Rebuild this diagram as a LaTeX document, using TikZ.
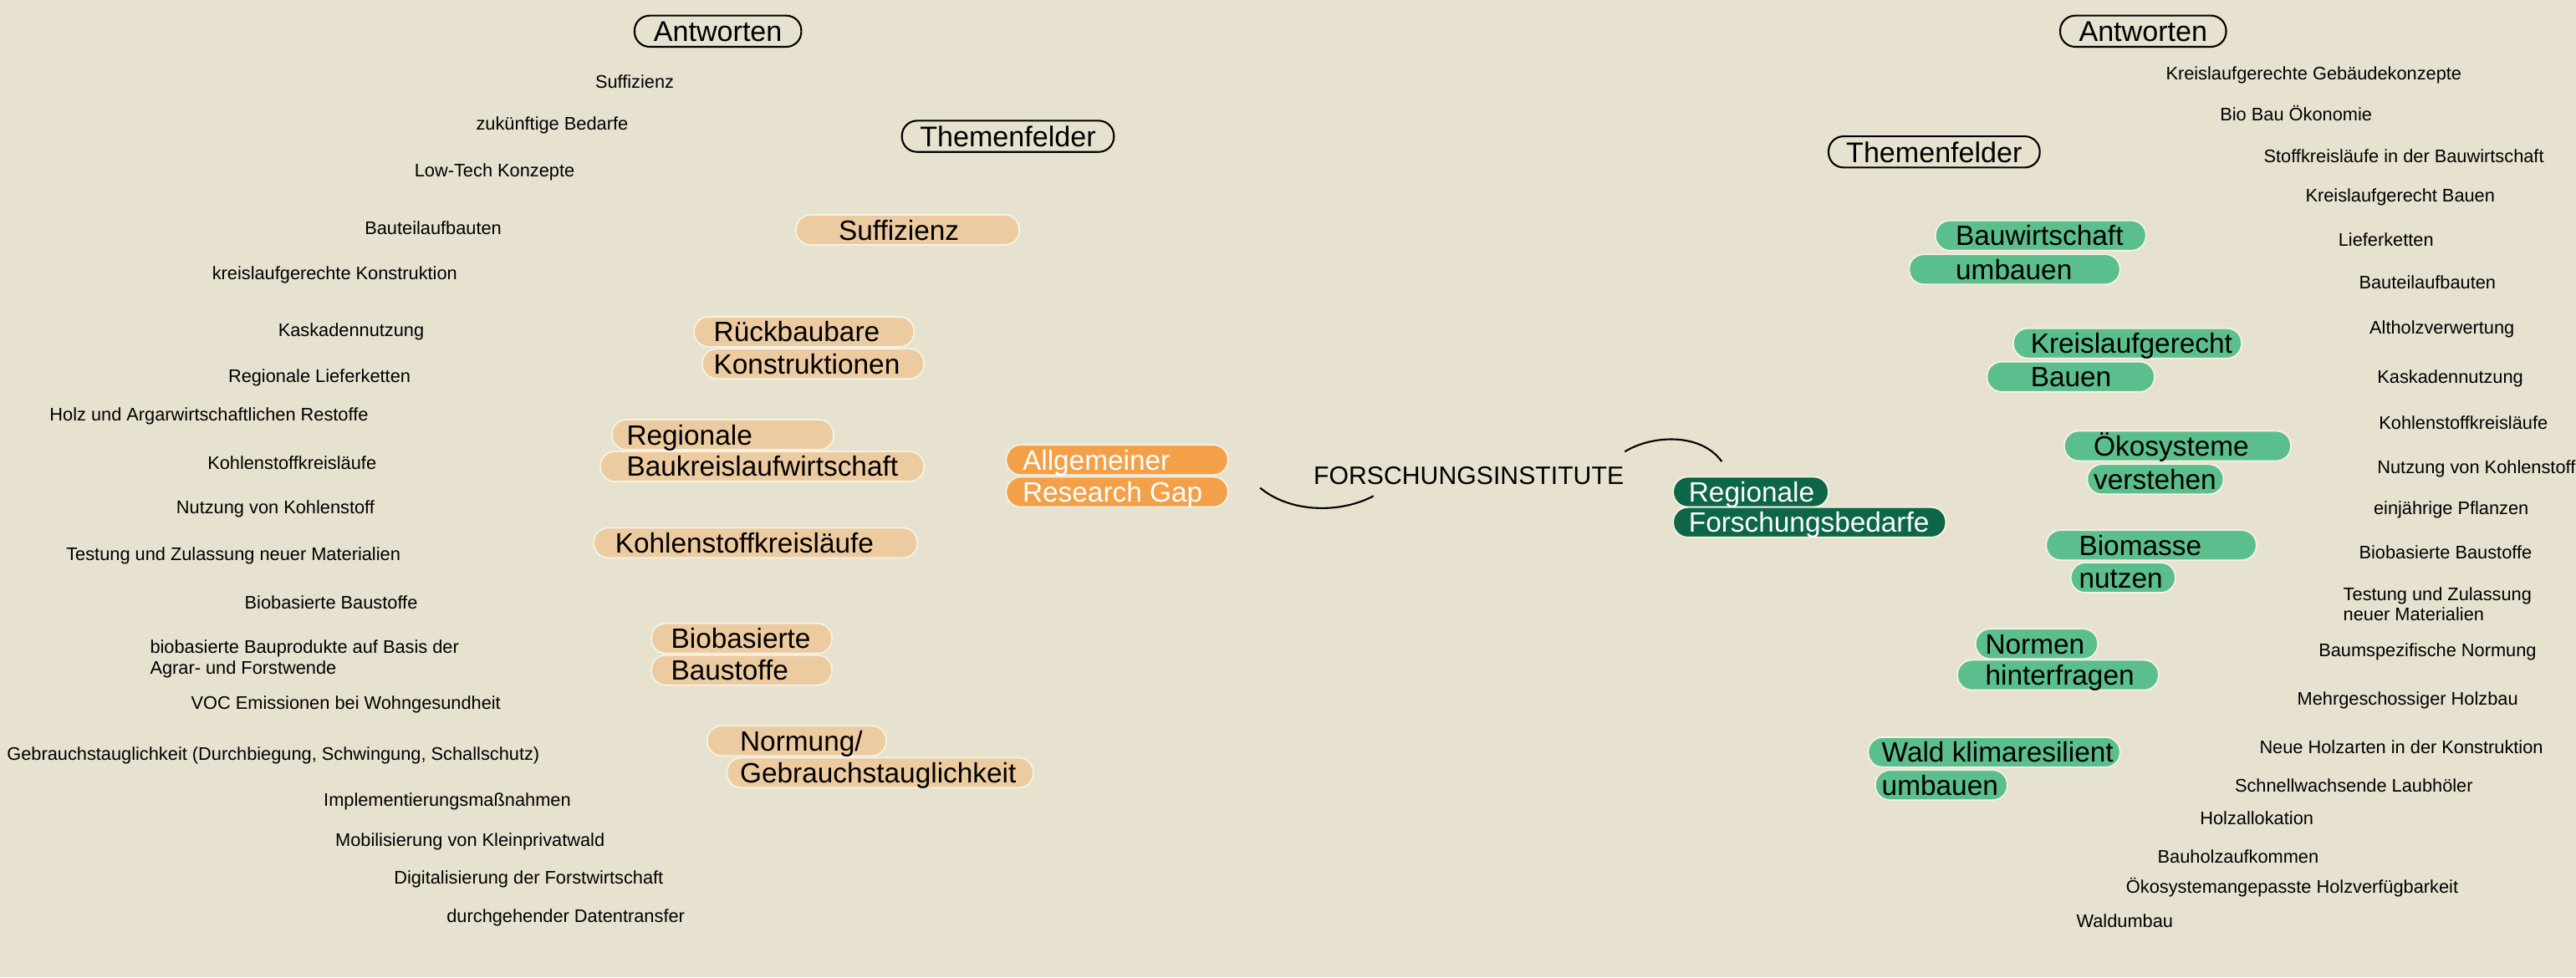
\documentclass[tikz,border=0pt]{standalone}
\usepackage{fontspec}
\setmainfont{Liberation Sans}
\usepackage{tikz}
\usetikzlibrary{positioning, calc}

\definecolor{bgcolor}{HTML}{E6E2CF}
\definecolor{sand}{HTML}{EDCBA0}
\definecolor{gaporange}{HTML}{F4A048}
\definecolor{darkgreen}{HTML}{0D6648}
\definecolor{leafgreen}{HTML}{5BBF8D}
\definecolor{pillrim}{HTML}{F6F2E4}

% one picture unit = one pixel of the 1568 px wide draft
\newlength{\ux}
\setlength{\ux}{0.01965cm}
% pill text: total width, left padding, text
\newcommand{\pilltext}[3]{\makebox[#1\ux][l]{\hspace*{#2\ux}#3}}

\begin{document}
\begin{tikzpicture}[x=0.01965cm, y=-0.01965cm,
    pill/.style={anchor=west, rounded corners=0.175cm, minimum height=0.36cm,
        inner xsep=0pt, inner ysep=0pt, text height=6.8pt, text depth=0pt,
        draw=pillrim, line width=0.5pt, font=\fontsize{9.5}{11}\selectfont},
    lightpill/.style={pill, fill=sand},
    gappill/.style={pill, fill=gaporange, text=white},
    regpill/.style={pill, fill=darkgreen, text=white},
    greenpill/.style={pill, fill=leafgreen},
    header/.style={draw=black, line width=0.6pt, rounded corners=0.18cm,
        minimum height=0.373cm, inner ysep=0pt, text height=7pt, text depth=0pt,
        font=\fontsize{9.7}{11}\selectfont},
    answer/.style={anchor=west, align=left, inner sep=0pt,
        font=\fontsize{6.2}{7.1}\selectfont},
    arc/.style={line width=0.6pt}]

    % Background
    \fill[bgcolor] (0,0) rectangle (1568,595);
    \useasboundingbox (0,0) rectangle (1568,595);

    % --- Center ---
    \node[font=\fontsize{8.6}{10}\selectfont, text height=6.2pt, text depth=0pt] (inst) at (894,289.5) {FORSCHUNGSINSTITUTE};
    \node[gappill] (allg) at (612,280) {\pilltext{135}{10}{Allgemeiner}};
    \node[gappill] (gap) at (612,299.5) {\pilltext{135}{10}{Research Gap}};
    \node[regpill] (regF) at (1018,299.5) {\pilltext{94.5}{9.5}{Regionale}};
    \node[regpill] (forschF) at (1018,318) {\pilltext{166}{9.5}{Forschungsbedarfe}};

    % Bogen links / rechts
    \coordinate (gapEnd) at (767,297);
    \coordinate (instLow) at (836,302);
    \draw[arc] (gapEnd) .. controls (785,312) and (815,313) .. (instLow);
    \coordinate (instHigh) at (989,275);
    \coordinate (regEnd) at (1048,281);
    \draw[arc] (instHigh) .. controls (1005,265) and (1035,263) .. (regEnd);

    % --- Left side ---
    \node[header, minimum width=1.995cm] (antL) at (437,19) {Antworten};
    \node[header, minimum width=2.535cm] (themL) at (613.5,83) {Themenfelder};

    \node[lightpill] (suffT) at (484,140) {\pilltext{136}{26}{Suffizienz}};
    \node[lightpill] (rueckT) at (422,202) {\pilltext{134}{12}{Rückbaubare}};
    \node[lightpill] (konstrT) at (427,221.5) {\pilltext{135}{7}{Konstruktionen}};
    \node[lightpill] (regT) at (372,264.7) {\pilltext{135}{9}{Regionale}};
    \node[lightpill] (baukrT) at (365,284) {\pilltext{197}{16}{Baukreislaufwirtschaft}};
    \node[lightpill] (kohleT) at (361,330.5) {\pilltext{197}{13}{Kohlenstoffkreisläufe}};
    \node[lightpill] (bioT) at (396,388.7) {\pilltext{110}{12}{Biobasierte}};
    \node[lightpill] (baustT) at (396,408) {\pilltext{110}{12}{Baustoffe}};
    \node[lightpill] (normT) at (430,451) {\pilltext{109}{20}{Normung/}};
    \node[lightpill] (gebrT) at (442,470.5) {\pilltext{186.5}{8}{Gebrauchstauglichkeit}};

    \foreach \x/\y/\t [count=\i] in {
        362/49.5/Suffizienz,
        289.5/76.3/zukünftige Bedarfe,
        252/105/Low-Tech Konzepte,
        221.7/139/Bauteilaufbauten,
        128.8/167.6/kreislaufgerechte Konstruktion,
        169/201.9/Kaskadennutzung,
        138.6/230/Regionale Lieferketten,
        29.9/253.5/Holz und Argarwirtschaftlichen Restoffe,
        126/281.6/Kohlenstoffkreisläufe,
        107/310/Nutzung von Kohlenstoff,
        40/338.5/Testung und Zulassung neuer Materialien,
        148.6/366.8/Biobasierte Baustoffe,
        91/401.4/{biobasierte Bauprodukte auf Basis der\\Agrar- und Forstwende},
        116/429/VOC Emissionen bei Wohngesundheit,
        3.9/460/{Gebrauchstauglichkeit (Durchbiegung, Schwingung, Schallschutz)},
        196.7/488/Implementierungsmaßnahmen,
        203.8/512.3/Mobilisierung von Kleinprivatwald,
        239.5/535.4/Digitalisierung der Forstwirtschaft,
        271.6/558.8/durchgehender Datentransfer} {
        \node[answer] (ansL\i) at (\x,\y) {\t};
    }

    % --- Right side ---
    \node[header, minimum width=1.985cm] (antR) at (1304.5,19) {Antworten};
    \node[header, minimum width=2.527cm] (themR) at (1177.3,92.5) {Themenfelder};

    \node[greenpill] (bauwT) at (1177.6,143.4) {\pilltext{128.2}{12.4}{Bauwirtschaft}};
    \node[greenpill] (umbT) at (1161.6,164) {\pilltext{128.4}{28.4}{umbauen}};
    \node[greenpill] (kreisT) at (1225,209) {\pilltext{139}{10.6}{Kreislaufgerecht}};
    \node[greenpill] (bauenT) at (1209,229.4) {\pilltext{102}{26.6}{Bauen}};
    \node[greenpill] (oekoT) at (1256,271.5) {\pilltext{138}{18}{Ökosysteme}};
    \node[greenpill] (verstT) at (1270,291.8) {\pilltext{83}{4}{verstehen}};
    \node[greenpill] (biomT) at (1245,331.9) {\pilltext{128}{20}{Biomasse}};
    \node[greenpill] (nutzT) at (1260,351.7) {\pilltext{63.7}{5}{nutzen}};
    \node[greenpill] (normenT) at (1202,392) {\pilltext{74.5}{6}{Normen}};
    \node[greenpill] (hintT) at (1191,411) {\pilltext{122.5}{17}{hinterfragen}};
    \node[greenpill] (waldT) at (1136.7,458) {\pilltext{153.3}{8.3}{Wald klimaresilient}};
    \node[greenpill] (umb2T) at (1141,478) {\pilltext{80.4}{4}{umbauen}};

    \foreach \x/\y/\t [count=\i] in {
        1318/45.8/Kreislaufgerechte Gebäudekonzepte,
        1351/69.2/Bio Bau Ökonomie,
        1377.6/94.8/Stoffkreisläufe in der Bauwirtschaft,
        1403/120.2/Kreislaufgerecht Bauen,
        1423/146/Lieferketten,
        1435.6/172/Bauteilaufbauten,
        1442/200.2/Altholzverwertung,
        1446.7/230.4/Kaskadennutzung,
        1447.7/257.5/Kohlenstoffkreisläufe,
        1446.7/285.3/Nutzung von Kohlenstoff,
        1444.5/310.4/einjährige Pflanzen,
        1435.6/336.3/Biobasierte Baustoffe,
        1426/367.8/{Testung und Zulassung\\neuer Materialien},
        1411/397/Baumspezifische Normung,
        1398/426.5/Mehrgeschossiger Holzbau,
        1375/454.8/Neue Holzarten in der Konstruktion,
        1360/478.3/Schnellwachsende Laubhöler,
        1338.8/498/Holzallokation,
        1313/521.7/Bauholzaufkommen,
        1293.8/540.5/Ökosystemangepasste Holzverfügbarkeit,
        1263.6/560.5/Waldumbau} {
        \node[answer] (ansR\i) at (\x,\y) {\t};
    }
\end{tikzpicture}
\end{document}
